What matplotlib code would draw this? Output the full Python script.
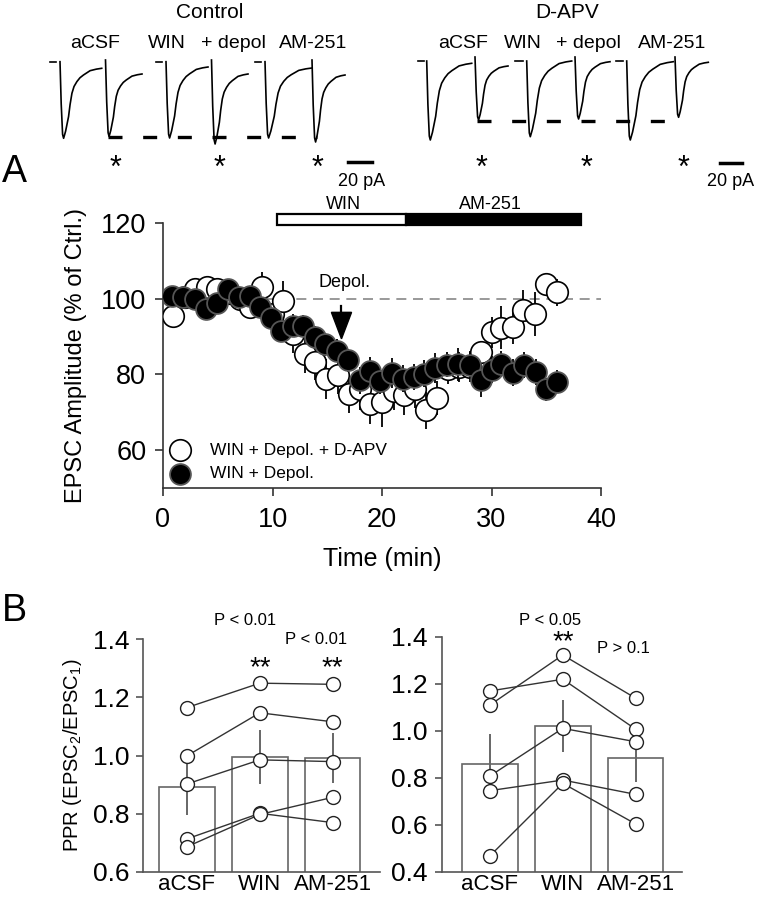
import numpy as np
import matplotlib
matplotlib.use("Agg")
import matplotlib.pyplot as plt
from matplotlib.patches import Rectangle, Polygon

plt.rcParams['font.family'] = ['Liberation Sans', 'DejaVu Sans']
plt.rcParams['mathtext.fontset'] = 'custom'
plt.rcParams['mathtext.rm'] = 'Liberation Sans'
plt.rcParams['mathtext.it'] = 'Liberation Sans:italic'

# ---------------- Panel A data ----------------
time_apv = [0.94, 2.0, 2.92, 3.99, 4.9, 6.0, 7.0, 7.95, 9.0, 10.0, 11.0, 11.9, 13.0, 13.9,
            14.9, 16.0, 17.0, 18.0, 18.9, 20.0, 21.1, 22.0, 23.0, 24.0, 25.0, 26.0, 27.0,
            28.0, 29.0, 30.0, 30.9, 32.0, 32.9, 34.0, 35.0, 36.0]
amp_apv = [95.5, 100.5, 102.5, 103.0, 102.5, 101.5, 100.0, 97.7, 103.0, 96.0, 99.5, 90.7,
           85.4, 83.4, 78.7, 79.8, 74.9, 76.2, 72.3, 72.7, 75.5, 74.5, 76.1, 70.5, 73.8,
           81.5, 82.0, 82.0, 85.9, 91.1, 92.3, 92.5, 97.0, 96.0, 103.9, 101.7]
err_apv = [2.6, 2.5, 2.5, 3.0, 3.0, 3.0, 3.0, 3.0, 4.0, 4.0, 5.3, 5.0, 5.0, 5.0, 5.3, 5.0,
           5.0, 5.5, 5.3, 6.6, 5.0, 5.3, 5.0, 4.8, 4.5, 4.0, 4.0, 4.0, 3.0, 4.0, 5.7, 4.5,
           5.3, 5.9, 2.9, 3.5]

time_ctl = [0.8, 1.86, 2.92, 3.93, 4.9, 5.96, 6.9, 7.95, 8.86, 9.9, 10.8, 11.9, 12.8, 13.9,
            14.8, 15.9, 16.9, 18.0, 18.9, 19.8, 20.9, 21.9, 22.9, 23.8, 24.8, 25.9, 26.9,
            28.0, 29.0, 30.0, 30.9, 32.0, 33.0, 34.1, 35.0, 36.0]
amp_ctl = [100.8, 100.4, 99.9, 97.3, 99.0, 102.5, 100.4, 100.8, 97.7, 94.8, 91.6, 92.9,
           92.8, 89.8, 88.0, 86.3, 83.7, 78.4, 81.0, 78.2, 80.4, 78.9, 79.3, 80.2, 81.7,
           82.6, 82.7, 82.6, 78.4, 81.3, 82.8, 80.5, 82.5, 80.6, 76.1, 78.1]
err_ctl = [2.0, 2.0, 2.0, 2.0, 2.0, 2.0, 2.0, 2.0, 2.5, 2.5, 3.0, 3.0, 3.0, 3.0, 3.0, 3.0,
           3.0, 3.5, 3.5, 3.5, 4.0, 3.5, 3.5, 3.5, 4.0, 3.3, 4.4, 3.5, 4.4, 3.5, 3.5, 3.5,
           3.5, 3.5, 3.0, 3.0]

legend_labels = ["WIN + Depol. + D-APV", "WIN + Depol."]
drug_bar_labels = ["WIN", "AM-251"]
drug_bar_edges = [10.4, 22.2, 38.2]
depol_time = 16.3

# ---------------- Panel B data ----------------
conditions = ["aCSF", "WIN", "AM-251"]
ppr_left_mean = [0.89, 0.995, 0.99]
ppr_left_err = [0.095, 0.092, 0.086]
ppr_left_cells = [[1.165, 1.249, 1.245],
                  [0.999, 1.147, 1.116],
                  [0.902, 0.985, 0.979],
                  [0.713, 0.801, 0.769],
                  [0.686, 0.797, 0.856]]
ppr_right_mean = [0.857, 1.02, 0.883]
ppr_right_err = [0.13, 0.11, 0.10]
ppr_right_cells = [[1.169, 1.219, 1.006],
                   [1.109, 1.322, 1.138],
                   [0.807, 1.010, 0.953],
                   [0.745, 0.790, 0.729],
                   [0.467, 0.776, 0.603]]

# ---------------- Example traces (illustration, pixel space) ----------------
# recovery template: (dx in px after the peak, fraction remaining)
tmpl_dx = [0, 2, 5, 6.5, 8.4, 10.5, 13.4, 16.5, 20, 26.7, 33, 38.4]
tmpl_r = [1.0, 0.9, 0.69, 0.52, 0.357, 0.26, 0.19, 0.135, 0.096, 0.034, 0.012, 0.0]
# each trace: onset x, top y, peak y, end y, end x
traces_ctrl = [(60, 61.7, 138.3, 68.3, 101.7), (105.5, 60, 136.5, 74, 142),
               (166, 61.7, 138, 67, 208), (211.5, 60, 144, 74, 248),
               (265, 61.7, 138, 68, 312), (312, 60, 142, 75, 345)]
traces_apv = [(426.7, 61, 140, 63.3, 471.7), (475, 57, 120, 66, 508),
              (526.7, 61, 136.7, 61, 571.7), (575, 57, 119, 61.7, 610),
              (626.7, 61, 140, 61.7, 673.3), (675, 57, 117.3, 62.3, 708.3)]
baseline_marks = [(50, 56, 61.7), (156, 162, 61.7), (255, 261, 61.7),
                  (418, 424, 61), (515, 523, 61), (616, 623, 61)]
dash_lines = [(108, 317, 137), (476.7, 685, 120.7)]
star_x = [115, 220, 317, 481.7, 586.7, 683.3]
scalebars = [(348, 372, 162), (720, 742, 163)]
cond_labels = ["aCSF", "WIN", "+ depol", "AM-251"]
cond_label_x_ctrl = [95, 166.7, 233, 313]
cond_label_x_apv = [463.3, 523.3, 588.3, 671.7]
group_titles = ["Control", "D-APV"]

W, H = 761, 899
fig = plt.figure(figsize=(W / 100, H / 100), dpi=100)

# overlay axes in pixel coordinates
ov = fig.add_axes([0, 0, 1, 1], zorder=0)
ov.set_xlim(0, W)
ov.set_ylim(H, 0)
ov.axis('off')


def draw_trace(ax, x0, ytop, ymin, yend, xend):
    xs = [x0, x0 + 1.2, x0 + 2.6]
    ys = [ytop, ytop + 0.55 * (ymin - ytop), ytop + 0.95 * (ymin - ytop)]
    xp = x0 + 3.6
    scale = (xend - xp) / tmpl_dx[-1]
    for dx, r in zip(tmpl_dx, tmpl_r):
        xs.append(xp + dx * scale)
        ys.append(yend + (ymin - yend) * r)
    ax.plot(xs, ys, color='black', lw=1.2, solid_joinstyle='round')


for tr in traces_ctrl + traces_apv:
    draw_trace(ov, *tr)
for xa, xb, y in baseline_marks:
    ov.plot([xa, xb], [y, y], color='black', lw=1.2)
for xa, xb, y in dash_lines:
    ov.plot([xa, xb], [y, y], color='black', lw=2.4, dashes=(4.2, 6.2))
for sx in star_x:
    ov.text(sx, 169, '*', ha='center', va='center', fontsize=22)
for xa, xb, y in scalebars:
    ov.plot([xa, xb], [y, y], color='black', lw=2.5)
ov.text(362, 182, '20 pA', ha='center', va='center', fontsize=13)
ov.text(731, 182, '20 pA', ha='center', va='center', fontsize=13)
ov.text(210, 12, group_titles[0], ha='center', va='center', fontsize=15)
ov.text(566.7, 12, group_titles[1], ha='center', va='center', fontsize=15)
for lab, x in zip(cond_labels, cond_label_x_ctrl):
    ov.text(x, 44, lab, ha='center', va='center', fontsize=14)
for lab, x in zip(cond_labels, cond_label_x_apv):
    ov.text(x, 44, lab, ha='center', va='center', fontsize=14)
ov.text(14, 172, 'A', ha='center', va='center', fontsize=27)
ov.text(14, 611, 'B', ha='center', va='center', fontsize=27)

# ---------------- Panel A ----------------
axA = fig.add_axes([163 / W, 1 - 488 / H, (601 - 163) / W, (488 - 223) / H], zorder=2)
axA.patch.set_alpha(0)
axA.set_xlim(0, 40)
axA.set_ylim(50, 120)
for s in ['top', 'right']:
    axA.spines[s].set_visible(False)
for s in ['left', 'bottom']:
    axA.spines[s].set_color('#333333')
    axA.spines[s].set_linewidth(1.2)
axA.set_xticks([0, 10, 20, 30, 40])
axA.set_yticks([60, 80, 100, 120])
axA.tick_params(axis='both', direction='out', length=6, width=1.2, colors='#333333',
                labelsize=19.5, labelcolor='black')
axA.tick_params(axis='y', pad=6)
axA.tick_params(axis='x', pad=8)
axA.set_xlabel('Time (min)', fontsize=18, labelpad=10)
axA.set_ylabel('EPSC Amplitude (% of Ctrl.)', fontsize=17, labelpad=10)

axA.axhline(100, color='#888888', lw=1.2, dashes=(6, 4), zorder=1)
axA.errorbar(time_apv, amp_apv, yerr=err_apv, fmt='none', ecolor='black',
             elinewidth=1.3, capsize=0, zorder=3)
axA.plot(time_apv, amp_apv, 'o', ms=15.5, mfc='white', mec='black', mew=1.2, zorder=4)
axA.errorbar(time_ctl, amp_ctl, yerr=err_ctl, fmt='none', ecolor='black',
             elinewidth=1.3, capsize=0, zorder=5)
axA.plot(time_ctl, amp_ctl, 'o', ms=15, mfc='black', mec='#555555', mew=1.3, zorder=6)

# drug application bar
axA.add_patch(Rectangle((drug_bar_edges[0], 119.4), drug_bar_edges[1] - drug_bar_edges[0], 3.1,
                        facecolor='white', edgecolor='black', lw=1.6, clip_on=False, zorder=7))
axA.add_patch(Rectangle((drug_bar_edges[1], 119.4), drug_bar_edges[2] - drug_bar_edges[1], 3.1,
                        facecolor='black', edgecolor='black', lw=1.6, clip_on=False, zorder=7))
axA.text((drug_bar_edges[0] + drug_bar_edges[1]) / 2 + 0.2, 124.8, drug_bar_labels[0],
         ha='center', va='center', fontsize=13, clip_on=False)
axA.text((drug_bar_edges[1] + drug_bar_edges[2]) / 2 - 0.3, 124.8, drug_bar_labels[1],
         ha='center', va='center', fontsize=13, clip_on=False)

# depolarisation arrow
axA.plot([depol_time, depol_time], [96.4, 98.2], color='black', lw=1.6, zorder=8)
axA.add_patch(Polygon([[depol_time - 0.92, 96.4], [depol_time + 0.92, 96.4],
                       [depol_time, 89.4]], closed=True, facecolor='black',
                      edgecolor='black', zorder=8))
axA.text(16.6, 104.4, 'Depol.', ha='center', va='center', fontsize=13)

# legend
axA.plot([1.55], [60], 'o', ms=15.5, mfc='white', mec='black', mew=1.2, zorder=6)
axA.plot([1.55], [53.8], 'o', ms=15, mfc='black', mec='#555555', mew=1.3, zorder=6)
axA.text(4.3, 60, legend_labels[0], ha='left', va='center', fontsize=12.5)
axA.text(4.3, 53.8, legend_labels[1], ha='left', va='center', fontsize=12.5)


# ---------------- Panel B ----------------
def ppr_panel(rect, xlim, ylim, yticks, means, errs, cells):
    ax = fig.add_axes(rect, zorder=2)
    ax.patch.set_alpha(0)
    x = np.arange(len(conditions))
    ax.bar(x, means, width=0.76, color='white', edgecolor='#666666', linewidth=1.2, zorder=1)
    ax.errorbar(x, means, yerr=errs, fmt='none', ecolor='#666666', elinewidth=1.4,
                capsize=0, zorder=2)
    for c in cells:
        ax.plot(x, c, color='#333333', lw=1.0, marker='o', ms=10, mfc='white',
                mec='#222222', mew=1.0, zorder=3, clip_on=False)
    ax.set_xlim(*xlim)
    ax.set_ylim(*ylim)
    ax.set_yticks(yticks)
    ax.set_yticklabels([f'{v:.1f}' for v in yticks])
    ax.set_xticks(x)
    ax.set_xticklabels(conditions)
    for s in ['top', 'right']:
        ax.spines[s].set_visible(False)
    for s in ['left', 'bottom']:
        ax.spines[s].set_color('#555555')
        ax.spines[s].set_linewidth(1.2)
    ax.tick_params(axis='y', direction='out', length=5, width=1.2, colors='#555555',
                   labelsize=19, labelcolor='black', pad=5)
    ax.tick_params(axis='x', length=0, labelsize=16, pad=2)
    return ax


axB1 = ppr_panel([143.3 / W, 1 - 871.7 / H, (380 - 143.3) / W, (871.7 - 639.3) / H],
                 (-0.6, 2.65), (0.6, 1.4), [0.6, 0.8, 1.0, 1.2, 1.4],
                 ppr_left_mean, ppr_left_err, ppr_left_cells)
axB1.set_ylabel(r'PPR (EPSC$_\mathregular{2}$/EPSC$_\mathregular{1}$)', fontsize=14.5, labelpad=6)
axB1.text(0.8, 1.466, 'P < 0.01', ha='center', va='center', fontsize=12, clip_on=False)
axB1.text(1.77, 1.398, 'P < 0.01', ha='center', va='center', fontsize=12, clip_on=False)
axB1.text(1.0, 1.30, '**', ha='center', va='center', fontsize=20)
axB1.text(2.0, 1.30, '**', ha='center', va='center', fontsize=20)

axB2 = ppr_panel([441.7 / W, 1 - 871.7 / H, (681.7 - 441.7) / W, (871.7 - 636.7) / H],
                 (-0.66, 2.63), (0.4, 1.4), [0.4, 0.6, 0.8, 1.0, 1.2, 1.4],
                 ppr_right_mean, ppr_right_err, ppr_right_cells)
axB2.text(0.82, 1.471, 'P < 0.05', ha='center', va='center', fontsize=12, clip_on=False)
axB2.text(1.0, 1.375, '**', ha='center', va='center', fontsize=20, clip_on=False)
axB2.text(1.83, 1.351, 'P > 0.1', ha='center', va='center', fontsize=12, clip_on=False)

fig.savefig('out.png', dpi=100)
